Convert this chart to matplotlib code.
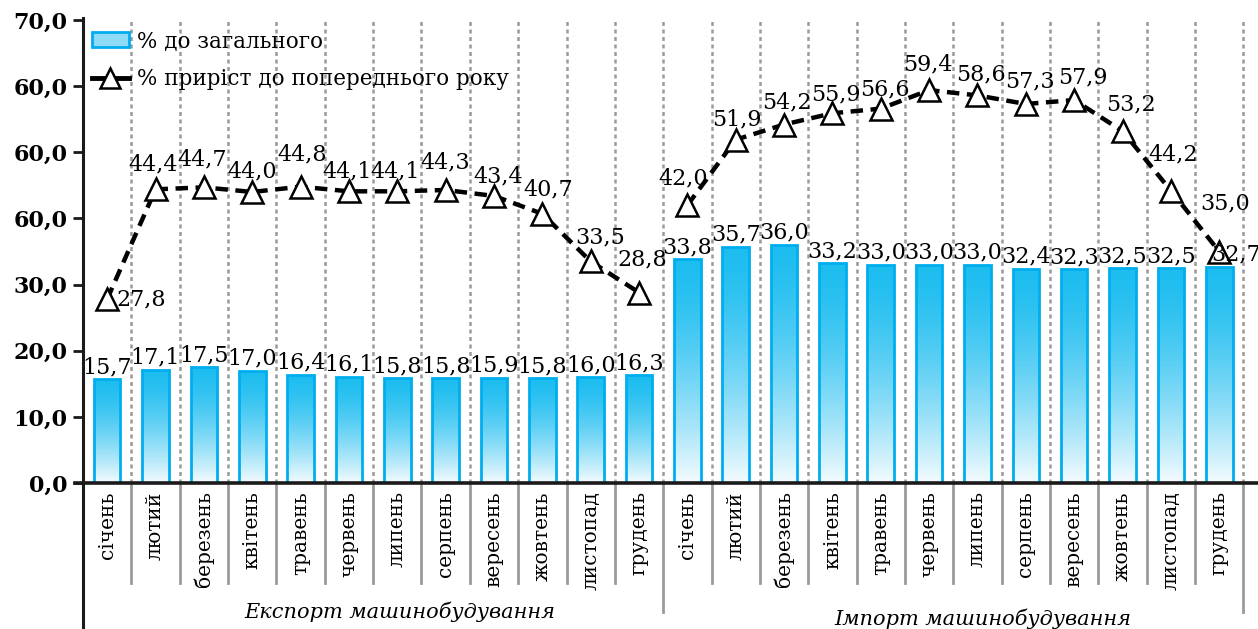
import numpy as np
import matplotlib
matplotlib.use("Agg")
import matplotlib.pyplot as plt
from matplotlib.patches import Patch
from matplotlib.lines import Line2D
import matplotlib.transforms as mtransforms

plt.rcParams['font.family'] = ['DejaVu Serif']

months = ["січень", "лютий", "березень", "квітень", "травень", "червень",
          "липень", "серпень", "вересень", "жовтень", "листопад", "грудень"]
groups = ["Експорт машинобудування", "Імпорт машинобудування"]

share_export = [15.7, 17.1, 17.5, 17.0, 16.4, 16.1, 15.8, 15.8, 15.9, 15.8, 16.0, 16.3]
share_import = [33.8, 35.7, 36.0, 33.2, 33.0, 33.0, 33.0, 32.4, 32.3, 32.5, 32.5, 32.7]
growth_export = [27.8, 44.4, 44.7, 44.0, 44.8, 44.1, 44.1, 44.3, 43.4, 40.7, 33.5, 28.8]
growth_import = [42.0, 51.9, 54.2, 55.9, 56.6, 59.4, 58.6, 57.3, 57.9, 53.2, 44.2, 35.0]

# y tick labels as printed in the source (with its repeated "60,0")
ytick_vals = [0, 10, 20, 30, 40, 50, 60, 70]
ytick_text = ["0,0", "10,0", "20,0", "30,0", "60,0", "60,0", "60,0", "70,0"]

shares = share_export + share_import
growth = growth_export + growth_import
labels = months + months
n = len(shares)
x = np.arange(n)

W, H = 1258, 629
fig = plt.figure(figsize=(W / 100, H / 100), dpi=100)
ax = fig.add_axes([83 / W, 146 / H, (W - 83) / W, (483 - 20) / H])
ax_h = 483 - 20
ax_w = W - 83
unit = 48.35  # pixels per category

def fmt(v):
    return f"{v:.1f}".replace(".", ",")

# bars with vertical gradient
bar_w = 0.55
top_c = np.array([0x1d, 0xbd, 0xf0]) / 255
bot_c = np.array([0xf4, 0xfb, 0xfe]) / 255
f = np.linspace(0, 1, 256) ** 1.5
grad = top_c[None, :] + (bot_c - top_c)[None, :] * f[:, None]
grad = grad[:, None, :]
bars = ax.bar(x, shares, width=bar_w, facecolor='none', edgecolor='#00aeef',
              linewidth=2, zorder=3)
for b in bars:
    im = ax.imshow(grad, extent=[b.get_x(), b.get_x() + b.get_width(), 0, b.get_height()],
                   aspect='auto', zorder=2, interpolation='bilinear')
    im.set_clip_path(b)

for i, v in enumerate(shares):
    dx = 17 if i == n - 1 else 0
    ax.annotate(fmt(v), (x[i], v), xytext=(dx, 1), textcoords='offset pixels',
                ha='center', va='bottom', fontsize=16, zorder=6)

# growth lines (two separate segments)
line_kw = dict(color='black', lw=3.2, linestyle=(0, (2.8, 1.7)), marker='^',
               markersize=16, markerfacecolor='white', markeredgecolor='black',
               markeredgewidth=1.8, zorder=5)
ax.plot(x[:12], growth_export, **line_kw)
ax.plot(x[12:], growth_import, **line_kw)

lbl_off = {0: (34, 0), 1: (-2, 25), 2: (-2, 28), 3: (0, 21), 4: (2, 32), 5: (-2, 20),
           6: (-2, 20), 7: (0, 28), 8: (4, 20), 9: (6, 24), 10: (9, 24), 11: (3, 33),
           12: (-4, 27), 13: (1, 20), 14: (3, 22), 15: (3, 19), 16: (4, 19), 17: (-1, 26),
           18: (3, 21), 19: (4, 23), 20: (9, 23), 21: (8, 27), 22: (2, 36), 23: (6, 48)}
for i, v in enumerate(growth):
    dx, dy = lbl_off.get(i, (0, 23))
    ax.annotate(fmt(v), (x[i], v), xytext=(dx, dy), textcoords='offset pixels',
                ha='center', va='center', fontsize=16, zorder=6)

ax.set_xlim(-0.5, -0.5 + ax_w / unit)
ax.set_ylim(0, 70)

# dashed vertical gridlines at category boundaries
for b in np.arange(0.5, n, 1.0):
    ax.axvline(b, color='#9a9a9a', lw=1.8, linestyle=(0, (1.6, 1.4)), zorder=1)

# separators below axis
trans = mtransforms.blended_transform_factory(ax.transData, ax.transAxes)
for b in np.arange(0.5, n + 0.5, 1.0):
    y_end = -(612 - 483) / ax_h if b in (11.5, 23.5) else -(583 - 483) / ax_h
    ax.add_line(Line2D([b, b], [0, y_end], transform=trans, color='#9a9a9a',
                       lw=2, clip_on=False))

# axes lines
for s in ax.spines.values():
    s.set_visible(False)
ax.add_line(Line2D([0, 0], [-146 / ax_h, 1.004], transform=ax.transAxes,
                   color='#1a1a1a', lw=2.2, clip_on=False, zorder=7))
ax.add_line(Line2D([-8 / ax_w, 1], [0, 0], transform=ax.transAxes,
                   color='#1a1a1a', lw=2.6, clip_on=False, zorder=7))

ax.set_yticks(ytick_vals)
ax.set_yticklabels(ytick_text, fontsize=16, fontweight='semibold')
ax.tick_params(axis='y', length=7, width=2, color='#1a1a1a', pad=4)
ax.set_xticks(x)
ax.set_xticklabels(labels, rotation=90, fontsize=14.5, va='top')
ax.tick_params(axis='x', length=0, pad=6)

ax.text((400 - 83) / unit - 0.5, -(612 - 483) / ax_h, groups[0], transform=trans,
        ha='center', va='center', fontsize=15, style='italic')
ax.text((983 - 83) / unit - 0.5, -(619 - 483) / ax_h, groups[1], transform=trans,
        ha='center', va='center', fontsize=15, style='italic')

handles = [Patch(facecolor='#8fdaf7', edgecolor='#00aeef', lw=2),
           Line2D([], [], color='black', lw=3.5, marker='^', markersize=15,
                  markerfacecolor='white', markeredgecolor='black', markeredgewidth=1.8)]
ax.legend(handles, ["% до загального", "% приріст до попереднього року"],
          loc='upper left', bbox_to_anchor=(9 / ax_w, 1 - 10 / ax_h), frameon=False,
          fontsize=15.5, handlelength=1.7, handletextpad=0.4, labelspacing=0.75,
          borderpad=0, borderaxespad=0)

fig.savefig("out.png", dpi=100)
